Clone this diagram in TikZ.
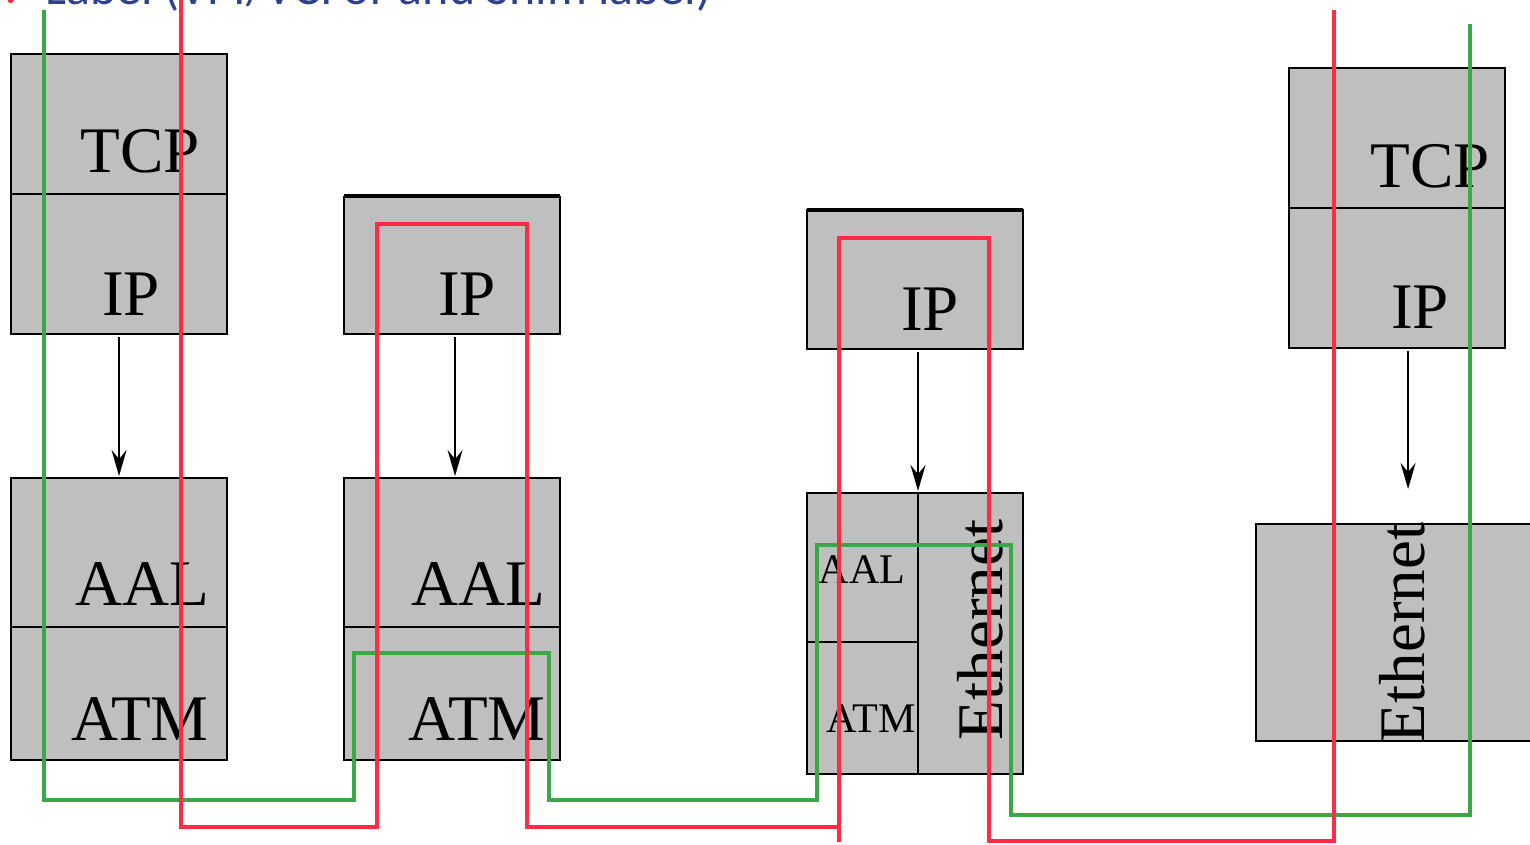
\documentclass[tikz,border=0pt]{standalone}
\usepackage{fontspec}
\setmainfont{Liberation Serif}
\newfontfamily\headfont{Carlito}
\newfontfamily\symfont{DejaVu Sans}
\usepackage{xcolor}
\usetikzlibrary{positioning, arrows.meta}
\definecolor{boxgray}{RGB}{191,191,191}
\definecolor{pathgreen}{RGB}{60,167,70}
\definecolor{pathred}{RGB}{255,42,68}
\definecolor{headblue}{RGB}{47,64,140}

\begin{document}
\begin{tikzpicture}[
  x=0.01cm, y=-0.01cm,
  layer/.style={rectangle, draw, fill=boxgray, line width=0.6pt, inner sep=0pt, outer sep=0pt, minimum width=2.16cm, minimum height=1.4cm},
  big/.style={font=\fontsize{18.5}{20}\selectfont, inner sep=0pt, anchor=base},
  small/.style={font=\fontsize{12}{14}\selectfont, inner sep=0pt, anchor=base},
  arr/.style={-{Stealth[length=2.6mm, width=1.5mm, inset=0.9mm]}, line width=0.5pt, shorten <=0.03cm, shorten >=0.02cm},
  route/.style={line width=1.3pt}
]
\useasboundingbox (0,0) rectangle (1530,844);

\node[anchor=base west, inner sep=0pt, text=pathred, font=\symfont\fontsize{12}{13}\selectfont] (bullet) at (0,7) {✓};
\node[anchor=base west, inner sep=0pt, text=headblue, font=\headfont\fontsize{14.2}{15}\selectfont] (title) at (45,4) {Label (VPI/VCI or and Shim label)};

\node[layer, anchor=north west] (tcp1) at (11,54) {};
\node[layer, below=0pt of tcp1] (ip1) {};
\node[layer, anchor=north west, minimum height=1.49cm] (aal1) at (11,478) {};
\node[layer, below=0pt of aal1, minimum height=1.33cm] (atm1) {};

\node[layer, anchor=north west, minimum height=1.37cm] (ip2) at (344,197) {};
\draw[line width=1.1pt] (ip2.north west) ++(0,-1) -- ([yshift=0.01cm]ip2.north east);
\node[layer, anchor=north west, minimum height=1.49cm] (aal2) at (344,478) {};
\node[layer, below=0pt of aal2, minimum height=1.33cm] (atm2) {};

\node[layer, anchor=north west, minimum height=1.39cm] (ip3) at (807,210) {};
\draw[line width=1.1pt] (ip3.north west) -- (ip3.north east);
\node[layer, anchor=north west, minimum width=1.11cm, minimum height=1.49cm] (aal3) at (807,493) {};
\node[layer, below=0pt of aal3, minimum width=1.11cm, minimum height=1.32cm] (atm3) {};
\node[layer, anchor=north west, minimum width=1.05cm, minimum height=2.81cm] (eth3) at (918,493) {};

\node[layer, anchor=north west] (tcp4) at (1289,68) {};
\node[layer, below=0pt of tcp4] (ip4) {};
\node[layer, anchor=north west, minimum width=2.9cm, minimum height=2.17cm] (eth4) at (1256,524) {};

\node[big] (tcptxt1) at (140,172) {TCP};
\node[big] (iptxt1) at (131,315) {IP};
\node[big] (aaltxt1) at (142,605) {AAL};
\node[big] (atmtxt1) at (140,740) {ATM};
\node[big] (iptxt2) at (467,315) {IP};
\node[big] (aaltxt2) at (478,605) {AAL};
\node[big] (atmtxt2) at (477,740) {ATM};
\node[big] (iptxt3) at (930,330) {IP};
\node[small] (aaltxt3) at (862,583) {AAL};
\node[small] (atmtxt3) at (871,732) {ATM};
\node[big, anchor=center, rotate=90] (ethtxt3) at (980,630) {Ethernet};
\node[big] (tcptxt4) at (1430,187) {TCP};
\node[big] (iptxt4) at (1420,328) {IP};
\node[big, anchor=center, rotate=90] (ethtxt4) at (1402,633) {Ethernet};

\draw[arr] (ip1.south) -- (aal1.north);
\draw[arr] ([xshift=0.03cm]ip2.south) -- ([xshift=0.03cm]aal2.north);
\draw[arr] (ip3.south -| eth3.north west) -- (eth3.north west);
\draw[arr, shorten >=0.35cm] ([xshift=0.11cm]ip4.south) -- ([xshift=0.11cm]ip4.south |- eth4.north);

\draw[route, pathgreen] (44,10) -- (44,800) -- (354,800) -- (354,653) -- (549,653) -- (549,800)
  -- (817,800) -- (817,545) -- (1011,545) -- (1011,815) -- (1470,815) -- (1470,24);
\draw[route, pathred] (181,0) -- (181,827) -- (377,827) -- (377,224) -- (527,224) -- (527,827) -- (839,827);
\draw[route, pathred] (839,842) -- (839,238) -- (989,238) -- (989,841) -- (1334,841) -- (1334,10);
\end{tikzpicture}
\end{document}
